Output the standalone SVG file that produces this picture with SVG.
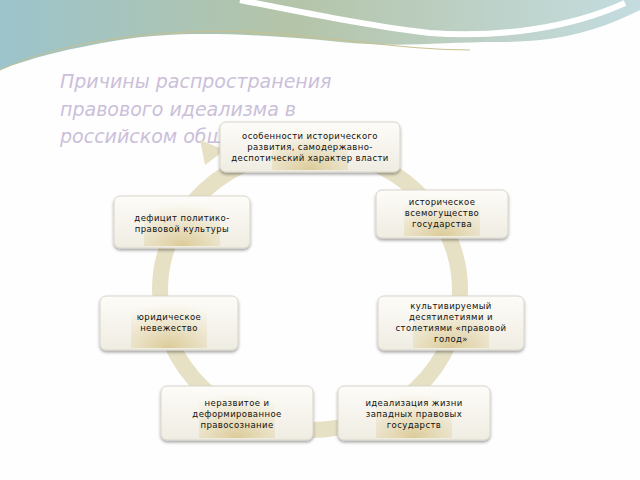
<svg xmlns="http://www.w3.org/2000/svg" width="640" height="480" viewBox="0 0 640 480">
<defs>
<linearGradient id="sky" x1="0" y1="0" x2="1" y2="0"><stop offset="0" stop-color="#9cc4cc"/><stop offset="0.45" stop-color="#b4c4a8"/><stop offset="1" stop-color="#c4dce0"/></linearGradient>
<linearGradient id="box" x1="0" y1="0" x2="0" y2="1"><stop offset="0" stop-color="#fdfcf8"/><stop offset="1" stop-color="#efece2"/></linearGradient>
<radialGradient id="glow" cx="0.5" cy="1" r="0.9"><stop offset="0" stop-color="#dccb98"/><stop offset="1" stop-color="#e8dcb4" stop-opacity="0"/></radialGradient>
<filter id="sh" x="-10%" y="-10%" width="120%" height="130%"><feDropShadow dx="0" dy="2" stdDeviation="1.5" flood-color="#000" flood-opacity="0.35"/></filter>
</defs>
<style>
.n rect.b{fill:url(#box);stroke:#d8d4c8;stroke-width:1;filter:url(#sh)}
.n rect.g{fill:url(#glow)}
.n text{font-family:"DejaVu Sans",sans-serif;font-size:8.5px;letter-spacing:0.4px;fill:#111;text-anchor:middle}
</style>
<rect width="640" height="480" fill="#fefefe"/>
<path d="M0,0 H640 V10 C600,30 560,42 500,42 C440,42 400,48 340,42 C260,34 180,30 120,40 C70,48 30,58 0,70 Z" fill="url(#sky)"/>
<path d="M0,70 C60,42 160,28 250,32 C330,36 400,50 470,50" fill="none" stroke="#c8c090" stroke-width="1"/>
<path d="M240,0 C300,12 370,26 430,33 C500,38 570,28 625,3" fill="none" stroke="#ffffff" stroke-width="6"/>
<g font-family="DejaVu Sans,sans-serif" font-style="italic" font-size="19" fill="#cbc0d9">
<text x="60" y="88">Причины распространения</text>
<text x="60" y="116">правового идеализма в</text>
<text x="60" y="143">российском обществе</text>
</g>
<g id="connectors">
<ellipse cx="310" cy="290" rx="150" ry="140" fill="none" stroke="#e6e0c4" stroke-width="16"/>
<polygon points="200,140 225,150 205,165" fill="#e6e0c4"/>
</g>
<g id="n1" class="n"><rect class="b" x="220" y="122" width="180" height="50" rx="6"/><rect class="g" x="272" y="124" width="76" height="46"/><text x="310" y="139">особенности  исторического</text><text x="310" y="150">развития,  самодержавно-</text><text x="310" y="161">деспотический характер власти</text></g>
<g id="n2" class="n"><rect class="b" x="376" y="190" width="132" height="48" rx="6"/><rect class="g" x="404" y="192" width="76" height="44"/><text x="442" y="205">историческое</text><text x="442" y="216">всемогущество</text><text x="442" y="227">государства</text></g>
<g id="n3" class="n"><rect class="b" x="114" y="196" width="136" height="52" rx="6"/><rect class="g" x="144" y="198" width="76" height="48"/><text x="182" y="221">дефицит политико-</text><text x="182" y="232">правовой культуры</text></g>
<g id="n4" class="n"><rect class="b" x="378" y="296" width="146" height="54" rx="6"/><rect class="g" x="413" y="298" width="76" height="50"/><text x="451" y="309">культивируемый</text><text x="451" y="320">десятилетиями и</text><text x="451" y="331">столетиями «правовой</text><text x="451" y="342">голод»</text></g>
<g id="n5" class="n"><rect class="b" x="100" y="296" width="138" height="54" rx="6"/><rect class="g" x="131" y="298" width="76" height="50"/><text x="169" y="320">юридическое</text><text x="169" y="331">невежество</text></g>
<g id="n6" class="n"><rect class="b" x="161" y="386" width="152" height="54" rx="6"/><rect class="g" x="199" y="388" width="76" height="50"/><text x="237" y="406">неразвитое и</text><text x="237" y="417">деформированное</text><text x="237" y="428">правосознание</text></g>
<g id="n7" class="n"><rect class="b" x="338" y="386" width="152" height="54" rx="6"/><rect class="g" x="376" y="388" width="76" height="50"/><text x="414" y="406">идеализация жизни</text><text x="414" y="417">западных правовых</text><text x="414" y="428">государств</text></g>
</svg>
